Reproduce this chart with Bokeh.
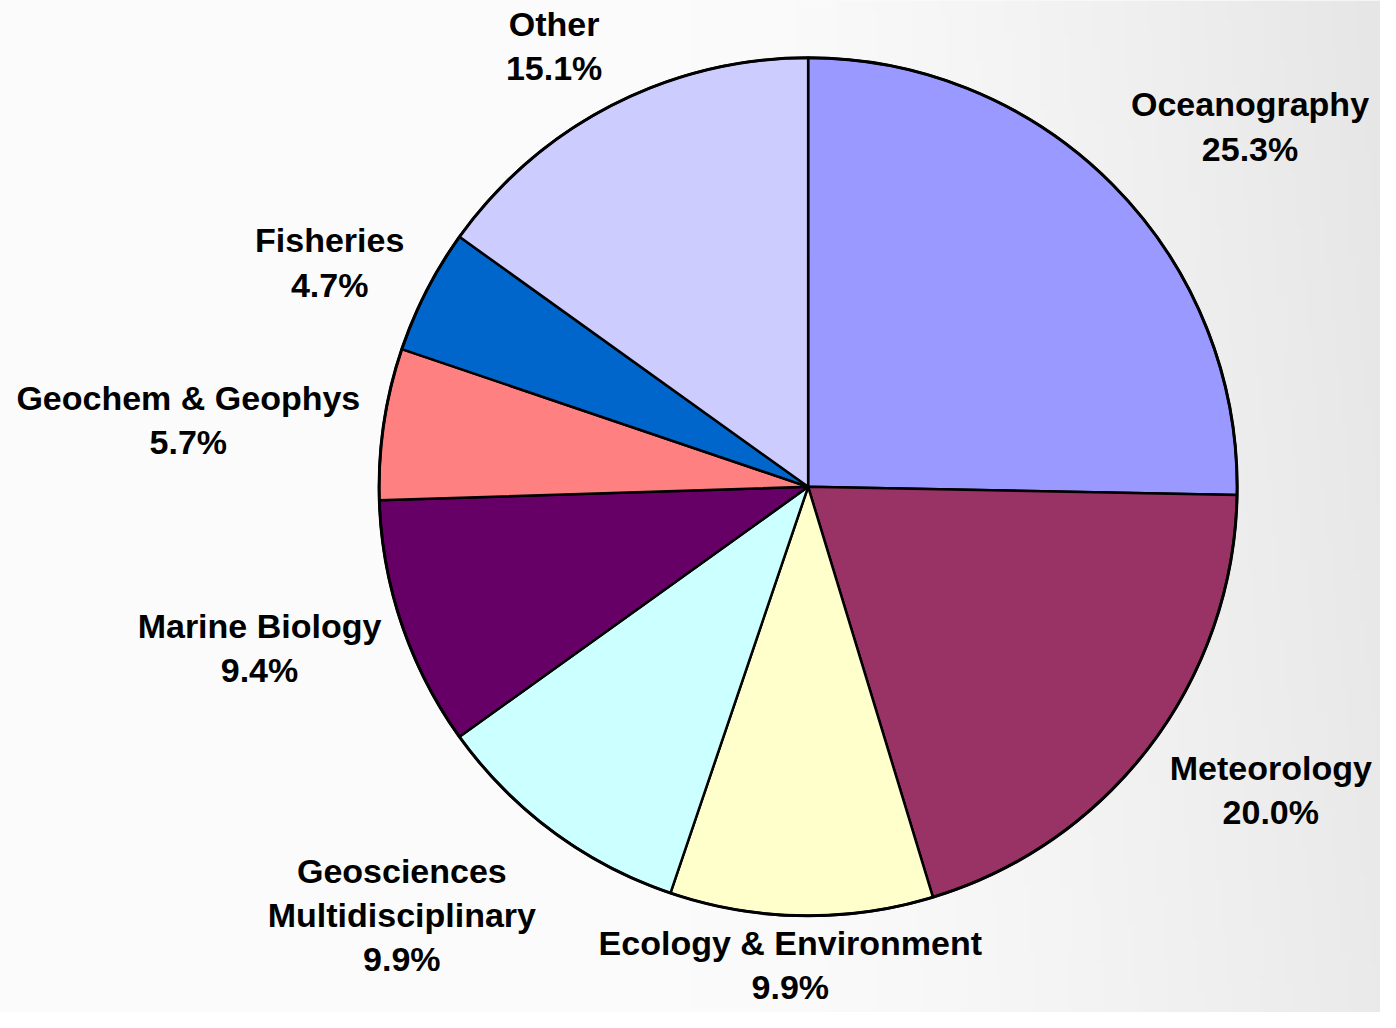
import numpy as np
from bokeh.plotting import figure
from bokeh.models import Range1d, ColumnDataSource
from bokeh.core.properties import value
from bokeh.embed import file_html
from bokeh.resources import INLINE

# ---- data ----
categories = ["Oceanography", "Meteorology", "Ecology & Environment",
              "Geosciences\nMultidisciplinary", "Marine Biology",
              "Geochem & Geophys", "Fisheries", "Other"]
percents = [25.3, 20.0, 9.9, 9.9, 9.4, 5.7, 4.7, 15.1]
colors = ["#9999FF", "#993366", "#FFFFCC", "#CCFFFF", "#660066",
          "#FF8080", "#0066CC", "#CCCCFF"]

# ---- layout (label offsets from pie centre, px, y up) ----
label_dx = [447, 468, -18, -411, -555, -627, -484, -257]
label_dy = [366, -308, -486, -435, -164, 68, 228, 448]

W, H = 1380, 1012
RW, RH = 1396, 1028        # reference picture size
CX, CY = 817, 494          # pie centre in reference pixels
R = 434

p = figure(width=W, height=H, output_backend="svg", toolbar_location=None,
           x_range=Range1d(-CX, RW - CX), y_range=Range1d(CY - RH, CY),
           min_border=0, outline_line_color=None)
p.axis.visible = False
p.grid.visible = False
p.background_fill_color = "#f8f8f8"
p.border_fill_color = "#f8f8f8"

# subtle background shading (lighter left, greyer right)
nx, ny = 280, 206
gx = np.linspace(0, 1, nx)
gy = np.linspace(0, 1, ny)
GX, GY = np.meshgrid(gx, gy)
shade = 251 - 17 * np.clip((GX - 0.55) / 0.45, 0, 1) ** 1.3 - 4 * GY * np.clip((GX - 0.5) / 0.5, 0, 1)
shade = shade.astype(np.uint32)
img = ((255 << 24) | (shade << 16) | (shade << 8) | shade).astype(np.uint32)
p.image_rgba(image=[img], x=-CX, y=CY - RH, dw=RW, dh=RH)

# ---- wedges ----
frac = np.array(percents) / sum(percents)
cum = np.concatenate([[0], np.cumsum(frac)])
start = np.pi / 2 - 2 * np.pi * cum[:-1]
end = np.pi / 2 - 2 * np.pi * cum[1:]
src = ColumnDataSource(dict(start=start, end=end, color=colors))
p.wedge(x=0, y=0, radius=R, start_angle="start", end_angle="end",
        direction="clock", fill_color="color", line_color="black",
        line_width=2.5, source=src)
p.circle(x=[0], y=[0], radius=R, fill_color=None, line_color="black", line_width=3)

# ---- labels ----
texts = [f"{c}\n{v:.1f}%" for c, v in zip(categories, percents)]
lsrc = ColumnDataSource(dict(x=label_dx, y=label_dy, t=texts))
p.text(x="x", y="y", text="t", source=lsrc, text_align="center",
       text_baseline="middle", text_font=value("Liberation Sans"),
       text_font_style="bold", text_font_size="34px", text_color="black",
       text_line_height=1.17)

open("out.html", "w").write(file_html(p, INLINE))
